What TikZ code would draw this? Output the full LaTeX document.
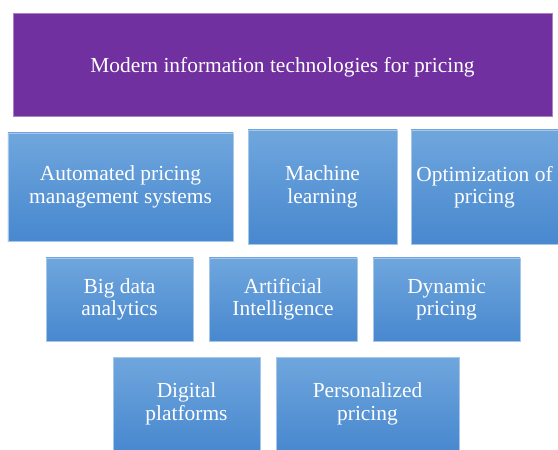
\documentclass[tikz,border=0pt]{standalone}
\usepackage{fontspec}
\setmainfont{Liberation Serif}
\usepackage{xcolor}
\usetikzlibrary{positioning}

\definecolor{headpurple}{HTML}{7030A0}
\definecolor{bluetop}{HTML}{6FA6DD}
\definecolor{bluebot}{HTML}{4888CF}
\definecolor{blueline}{HTML}{A7C7E8}

\tikzset{
    headbox/.style={fill=headpurple, draw=headpurple!60!white, line width=0.6bp,
        text=white, font=\rmfamily\fontsize{21.5}{22.5}\selectfont, inner sep=0pt},
    blockbox/.style={top color=bluetop, bottom color=bluebot, draw=blueline, line width=0.6bp,
        text=white, align=center, font=\rmfamily\fontsize{21.5}{22.5}\selectfont, inner sep=0pt}
}

\begin{document}
\begin{tikzpicture}[x=1bp, y=-1bp]
    \useasboundingbox (0,0) rectangle (558,450);

    % Title
    \node[headbox, minimum width=539bp, minimum height=103bp] (head) at (282.5,64.5)
        {\raisebox{-3bp}[\height][\depth]{Modern information technologies for pricing}};

    % First row
    \node[blockbox, minimum width=225bp, minimum height=108bp] (aut) at (120.5,187)
        {Automated pricing\\management systems};
    \node[blockbox, minimum width=149bp, minimum height=114bp] (mach) at (322.5,187)
        {Machine\\learning};
    \node[blockbox, minimum width=147bp, minimum height=114bp] (opt) at (484.5,187)
        {Optimization of\\pricing};

    % Second row
    \node[blockbox, minimum width=147bp, minimum height=83bp] (big) at (119.5,299.5)
        {Big data\\analytics};
    \node[blockbox, minimum width=148bp, minimum height=83bp] (ai) at (283,299.5)
        {Artificial\\Intelligence};
    \node[blockbox, minimum width=147bp, minimum height=83bp] (dyn) at (446.5,299.5)
        {Dynamic\\pricing};

    % Third row
    \node[blockbox, minimum width=147bp, minimum height=94bp] (dig) at (186.5,404)
        {Digital\\platforms};
    \node[blockbox, minimum width=183bp, minimum height=94bp] (pers) at (367.5,404)
        {Personalized\\pricing};
\end{tikzpicture}
\end{document}
